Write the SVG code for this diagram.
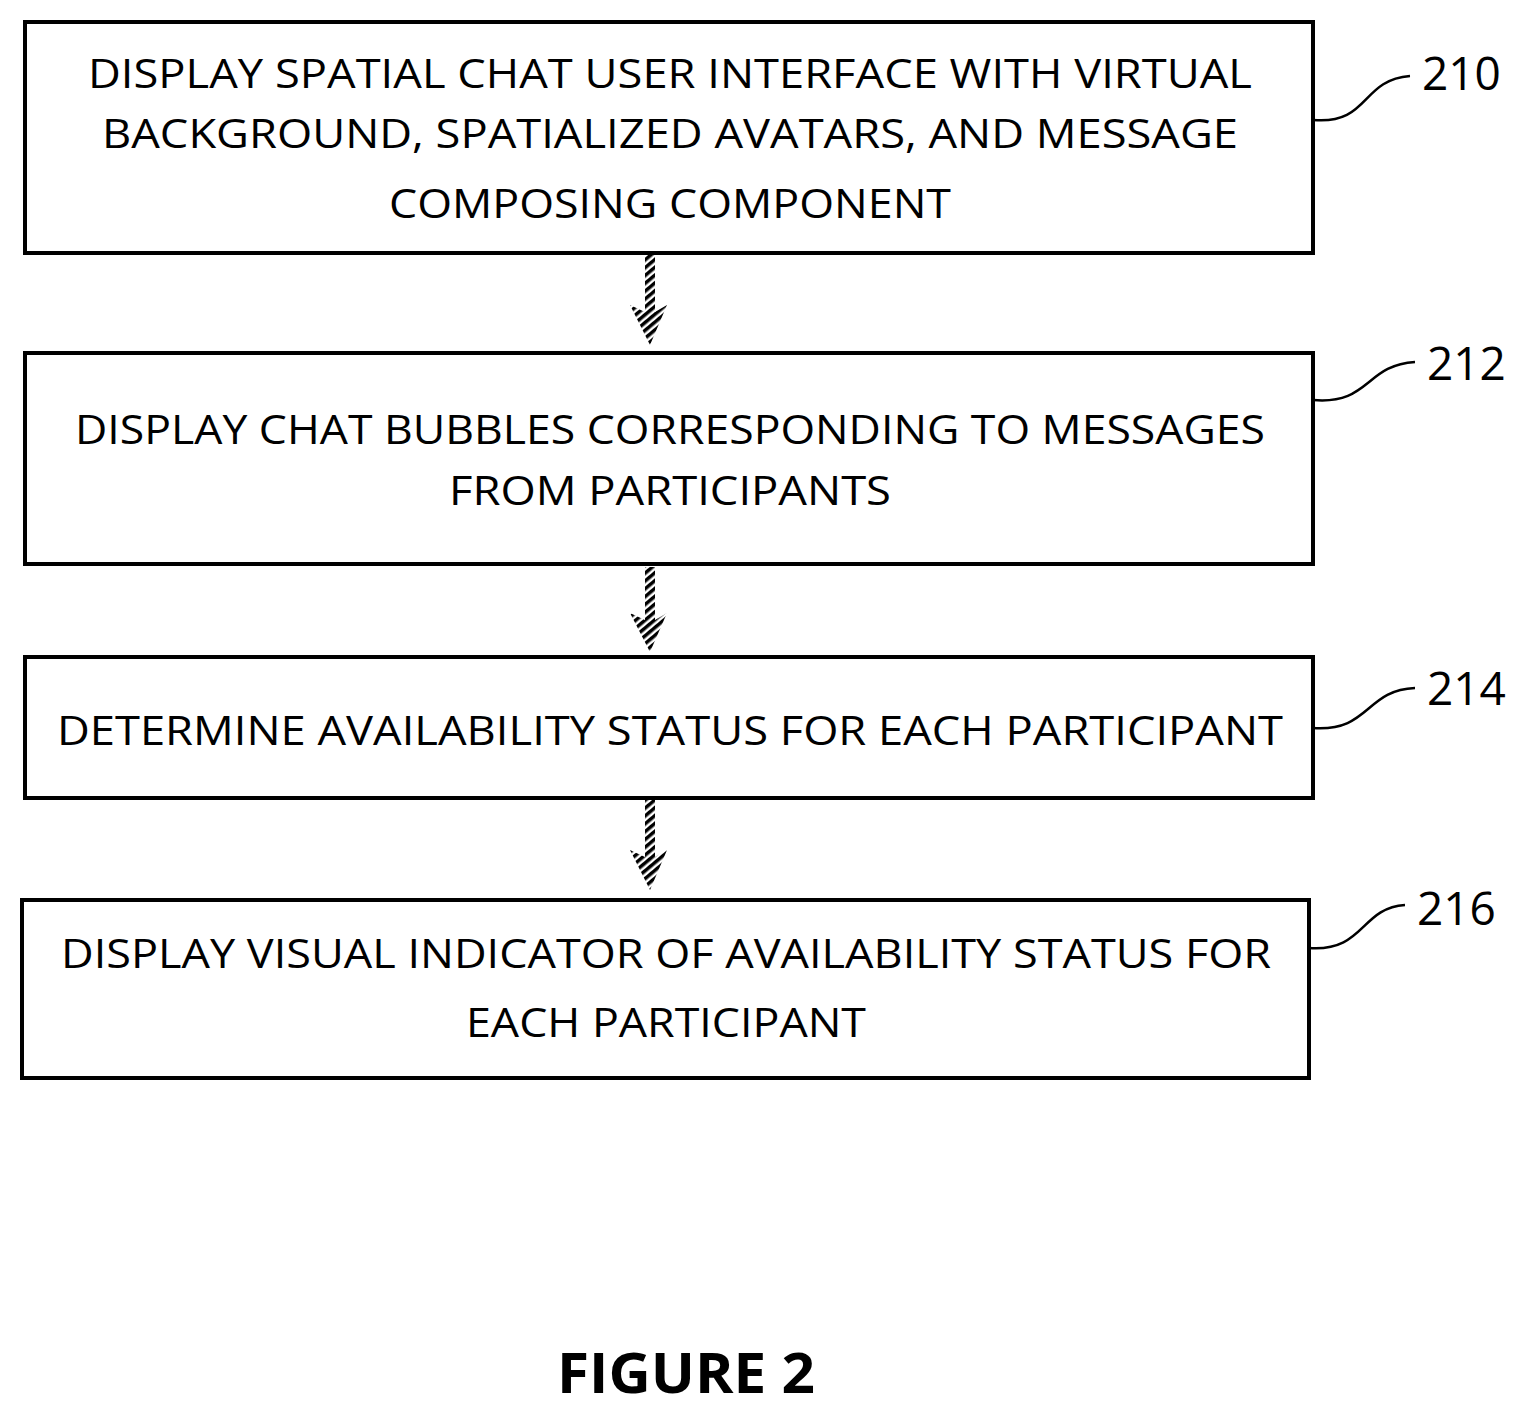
<svg xmlns="http://www.w3.org/2000/svg" width="1535" height="1414" viewBox="0 0 1535 1414">
<defs>
<pattern id="hatch" width="6" height="6" patternUnits="userSpaceOnUse" patternTransform="rotate(-40)">
<rect width="6" height="6" fill="#fff"/><rect width="6" height="3.5" fill="#000"/>
</pattern>
<symbol id="arr" viewBox="-20 0 40 90" overflow="visible">
</symbol>
</defs>
<style>
.box{fill:#fff;stroke:#000;stroke-width:4}
.t{font-family:"Open Sans","Liberation Sans",sans-serif;font-size:40px;text-anchor:middle;fill:#000}
.n{font-family:"Open Sans","Liberation Sans",sans-serif;font-size:46px;fill:#000}
.lead{fill:none;stroke:#000;stroke-width:2.5}
.a{fill:url(#hatch);stroke:none}
</style>
<rect width="1535" height="1414" fill="#fff"/>
<g id="connectors">
<path class="a" d="M645 253 H655 V312 L667 305 L650 345 L630 305 L645 312 Z"/>
<path class="a" d="M645 567 H655 V620 L667 613 L650 652 L630 613 L645 620 Z"/>
<path class="a" d="M645 798 H655 V857 L667 850 L650 890 L630 850 L645 857 Z"/>
</g>
<g id="n210">
<rect class="box" x="25" y="22" width="1288" height="231"/>
<text class="t" x="670" y="88" textLength="1164" lengthAdjust="spacingAndGlyphs">DISPLAY SPATIAL CHAT USER INTERFACE WITH VIRTUAL</text>
<text class="t" x="670" y="148" textLength="1136" lengthAdjust="spacingAndGlyphs">BACKGROUND, SPATIALIZED AVATARS, AND MESSAGE</text>
<text class="t" x="670" y="218" textLength="562" lengthAdjust="spacingAndGlyphs">COMPOSING COMPONENT</text>
<path class="lead" d="M1313 120 C1370 125 1360 80 1410 76"/>
<text class="n" x="1422" y="90">210</text>
</g>
<g id="n212">
<rect class="box" x="25" y="353" width="1288" height="211"/>
<text class="t" x="670" y="444" textLength="1190" lengthAdjust="spacingAndGlyphs">DISPLAY CHAT BUBBLES CORRESPONDING TO MESSAGES</text>
<text class="t" x="670" y="505" textLength="442" lengthAdjust="spacingAndGlyphs">FROM PARTICIPANTS</text>
<path class="lead" d="M1313 400 C1370 405 1365 365 1415 362"/>
<text class="n" x="1427" y="380">212</text>
</g>
<g id="n214">
<rect class="box" x="25" y="657" width="1288" height="141"/>
<text class="t" x="670" y="745" textLength="1226" lengthAdjust="spacingAndGlyphs">DETERMINE AVAILABILITY STATUS FOR EACH PARTICIPANT</text>
<path class="lead" d="M1313 728 C1370 732 1365 690 1415 688"/>
<text class="n" x="1427" y="705">214</text>
</g>
<g id="n216">
<rect class="box" x="22" y="900" width="1287" height="178"/>
<text class="t" x="666" y="968" textLength="1210" lengthAdjust="spacingAndGlyphs">DISPLAY VISUAL INDICATOR OF AVAILABILITY STATUS FOR</text>
<text class="t" x="666" y="1037" textLength="400" lengthAdjust="spacingAndGlyphs">EACH PARTICIPANT</text>
<path class="lead" d="M1309 948 C1365 952 1360 908 1405 905"/>
<text class="n" x="1417" y="925">216</text>
</g>
<text x="686" y="1393" font-family="'Open Sans','Liberation Sans',sans-serif" font-weight="bold" font-size="56" text-anchor="middle" textLength="258" lengthAdjust="spacingAndGlyphs">FIGURE 2</text>
</svg>
